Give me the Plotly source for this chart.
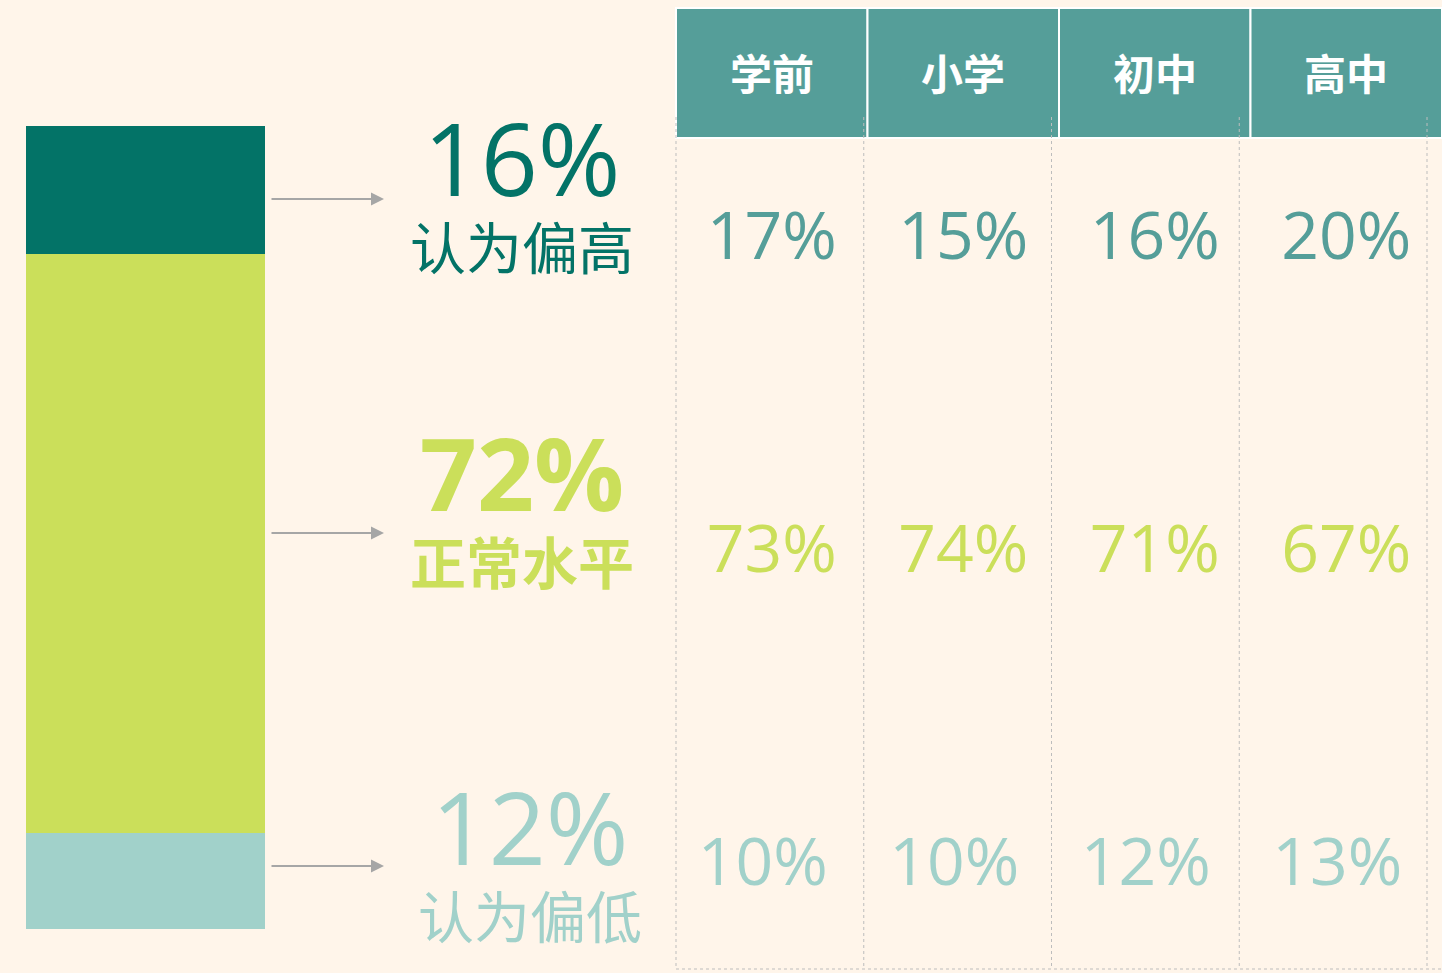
import plotly.graph_objects as go

W, H = 1442, 973

# overall split shown in the stacked bar (bottom to top)
bar_names = ["认为偏低", "正常水平", "认为偏高"]
bar_values = [12, 72, 16]
bar_colors = ["#A1D1CA", "#CBDF5A", "#037367"]

# per-stage breakdown
stages = ["学前", "小学", "初中", "高中"]
high_vals = [17, 15, 16, 20]
normal_vals = [73, 74, 71, 67]
low_vals = [10, 10, 12, 13]

BG = "#FFF5EA"
HEADER = "#559E99"
GRID = dict(color="#BDBDBD", width=1, dash="dot")
NUM_FONT = "Open Sans, Noto Sans CJK SC, sans-serif"
CJK_FONT = "Noto Sans CJK SC, sans-serif"

fig = go.Figure()

# stacked bar on its own axes
for name, val, color in zip(bar_names, bar_values, bar_colors):
    fig.add_trace(go.Bar(x=[0], y=[val], name=name, marker=dict(color=color, line=dict(width=0)),
                         width=1, xaxis="x2", yaxis="y2", showlegend=False, hoverinfo="skip"))

# side labels: big percentage over caption (one text block), with arrow from the bar
label_pos = {"认为偏高": (522, 187, 199), "正常水平": (522, 502, 533), "认为偏低": (530, 856, 866)}
for name, val, color in zip(bar_names, bar_values, bar_colors):
    lx, ly, y_arrow = label_pos[name]
    txt = (f"<span style='font-family:{NUM_FONT};font-size:100px'>{val}%</span>"
           f"<br>{name}")
    if name == "正常水平":
        txt = f"<b>{txt}</b>"
    fig.add_annotation(x=lx, y=ly, xref="x", yref="y", showarrow=False, text=txt,
                       font=dict(family=CJK_FONT, size=56, color=color))
    fig.add_annotation(x=384, y=y_arrow, ax=270, ay=y_arrow, xref="x", yref="y",
                       axref="x", ayref="y", text="", showarrow=True,
                       arrowhead=2, arrowsize=1.3, arrowwidth=2, arrowcolor="#A6A6A6")

# table header cells
col_left, col_w = 676, 191.5
for i, st in enumerate(stages):
    x0 = col_left + i * col_w
    fig.add_shape(type="rect", x0=x0, x1=x0 + col_w, y0=8, y1=138, xref="x", yref="y",
                  fillcolor=HEADER, line=dict(color="white", width=2), layer="below")
    fig.add_annotation(x=x0 + col_w / 2, y=71, xref="x", yref="y", showarrow=False,
                       text=f"<b>{st}</b>", font=dict(family=CJK_FONT, size=42, color="white"))

# dotted body grid
grid_left, grid_w = 676, 187.75
for i in range(len(stages) + 1):
    gx = grid_left + i * grid_w
    fig.add_shape(type="line", x0=gx, x1=gx, y0=117, y1=969, xref="x", yref="y", line=GRID)
fig.add_shape(type="line", x0=grid_left, x1=W, y0=969, y1=969, xref="x", yref="y", line=GRID)

# table values
rows = [(high_vals, "#559E99", 242, 0), (normal_vals, "#CBDF5A", 555, 0), (low_vals, "#A1D1CA", 868, -9)]
for vals, color, ry, dx in rows:
    fig.add_trace(go.Scatter(
        x=[col_left + (i + 0.5) * col_w + dx for i in range(len(vals))], y=[ry] * len(vals),
        mode="text", text=[f"{v}%" for v in vals], textposition="middle center",
        textfont=dict(family=NUM_FONT, size=66, color=color),
        xaxis="x", yaxis="y", showlegend=False, hoverinfo="skip"))

axis_off = dict(visible=False, showgrid=False, zeroline=False, fixedrange=True)
fig.update_layout(
    width=W, height=H, margin=dict(l=0, r=0, t=0, b=0),
    paper_bgcolor=BG, plot_bgcolor="rgba(0,0,0,0)",
    barmode="stack", bargap=0,
    xaxis=dict(range=[0, W], domain=[0, 1], **axis_off),
    yaxis=dict(range=[H, 0], domain=[0, 1], **axis_off),
    xaxis2=dict(range=[-0.5, 0.5], domain=[26 / W, 265 / W], anchor="y2", **axis_off),
    yaxis2=dict(range=[0, 100], domain=[1 - 929 / H, 1 - 126 / H], anchor="x2", **axis_off),
)

# drop the browser's default body margin so the figure sits flush with the window
fig.write_html("out.html", config={"displayModeBar": False},
               post_script="document.body.style.margin='0';document.body.style.overflow='hidden';")
